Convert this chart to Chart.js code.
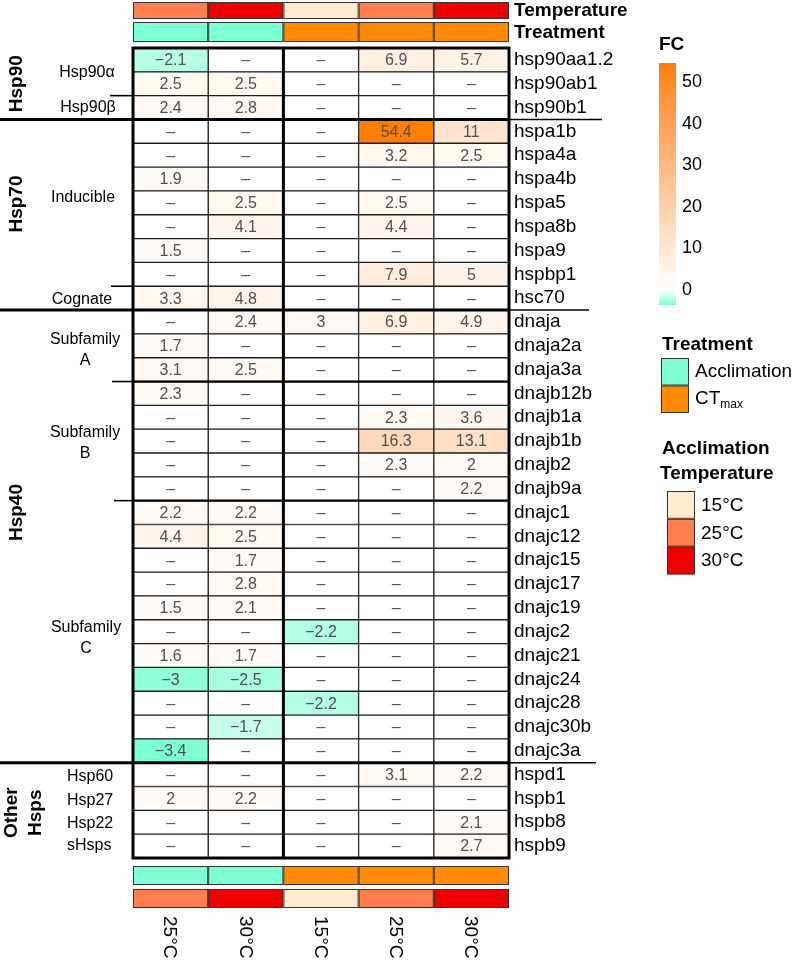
<!DOCTYPE html>
<html><head><meta charset="utf-8">
<script src="https://cdn.jsdelivr.net/npm/chart.js@4.4.1/dist/chart.umd.min.js"></script>
<style>html,body{margin:0;padding:0;background:#fff;} canvas{display:block;}</style>
</head><body>
<canvas id="c" width="792" height="960" style="width:792px;height:960px"></canvas>
<script>
// ---------------- DATA ----------------
const genes = ["hsp90aa1.2","hsp90ab1","hsp90b1","hspa1b","hspa4a","hspa4b","hspa5","hspa8b","hspa9","hspbp1","hsc70",
  "dnaja","dnaja2a","dnaja3a","dnajb12b","dnajb1a","dnajb1b","dnajb2","dnajb9a",
  "dnajc1","dnajc12","dnajc15","dnajc17","dnajc19","dnajc2","dnajc21","dnajc24","dnajc28","dnajc30b","dnajc3a",
  "hspd1","hspb1","hspb8","hspb9"];
const columnLabels = ["25°C","30°C","15°C","25°C","30°C"];
const treatments = ["Acclimation","Acclimation","CTmax","CTmax","CTmax"];
const temperatures = ["25°C","30°C","15°C","25°C","30°C"];
// fold change per condition (null = not significant, shown as "–")
const acc25 = [-2.1,2.5,2.4, null,null,1.9,null,null,1.5,null,3.3, null,1.7,3.1, 2.3,null,null,null,null,
  2.2,4.4,null,null,1.5,null,1.6,-3,null,null,-3.4, null,2,null,null];
const acc30 = [null,2.5,2.8, null,null,null,2.5,4.1,null,null,4.8, 2.4,null,2.5, null,null,null,null,null,
  2.2,2.5,1.7,2.8,2.1,null,1.7,-2.5,null,-1.7,null, null,2.2,null,null];
const ct15 = [null,null,null, null,null,null,null,null,null,null,null, 3,null,null, null,null,null,null,null,
  null,null,null,null,null,-2.2,null,null,-2.2,null,null, null,null,null,null];
const ct25 = [6.9,null,null, 54.4,3.2,null,2.5,4.4,null,7.9,null, 6.9,null,null, null,2.3,16.3,2.3,null,
  null,null,null,null,null,null,null,null,null,null,null, 3.1,null,null,null];
const ct30 = [5.7,null,null, 11,2.5,null,null,null,null,5,null, 4.9,null,null, null,3.6,13.1,2,2.2,
  null,null,null,null,null,null,null,null,null,null,null, 2.2,null,2.1,2.7];
const columns = [acc25, acc30, ct15, ct25, ct30];
const fcTicks = [0,10,20,30,40,50];
const fcMin = -3.4, fcMax = 54.4;
const treatmentLegend = ["Acclimation","CTmax"];
const temperatureLegend = ["15°C","25°C","30°C"];
const groupLabels = ["Hsp90","Hsp70","Hsp40","Other\nHsps"];
const groupFirstGene = ["hsp90aa1.2","hspa1b","dnaja","hspd1"];
const subgroupLabels = ["Hsp90α","Hsp90β","Inducible","Cognate","Subfamily\nA","Subfamily\nB","Subfamily\nC","Hsp60","Hsp27","Hsp22","sHsps"];
const subgroupFirstGene = ["hsp90aa1.2","hsp90b1","hspa1b","hsc70","dnaja","dnajb12b","dnajc1","hspd1","hspb1","hspb8","hspb9"];

// ---------------- COLOURS ----------------
const treatColors = {"Acclimation":"#7FFFD4","CTmax":"#FF8C00"};
const tempColors = {"15°C":"#FFEBCD","25°C":"#FF7F50","30°C":"#EE0000"};
function s2l(c){c/=255;return c<=0.04045?c/12.92:Math.pow((c+0.055)/1.055,2.4);}
function l2s(c){c=c<=0.0031308?12.92*c:1.055*Math.pow(c,1/2.4)-0.055;return Math.round(Math.max(0,Math.min(1,c))*255);}
function rgb2lab(rgb){const r=s2l(rgb[0]),g=s2l(rgb[1]),b=s2l(rgb[2]);
  let x=(0.4124*r+0.3576*g+0.1805*b)/0.95047,y=(0.2126*r+0.7152*g+0.0722*b),z=(0.0193*r+0.1192*g+0.9505*b)/1.08883;
  const f=t=>t>0.008856?Math.cbrt(t):7.787*t+16/116;x=f(x);y=f(y);z=f(z);
  return [116*y-16,500*(x-y),200*(y-z)];}
function lab2rgb(lab){const fy=(lab[0]+16)/116,fx=fy+lab[1]/500,fz=fy-lab[2]/200;
  const fi=t=>t*t*t>0.008856?t*t*t:(t-16/116)/7.787;
  const x=fi(fx)*0.95047,y=fi(fy),z=fi(fz)*1.08883;
  const r=3.2406*x-1.5372*y-0.4986*z,g=-0.9689*x+1.8758*y+0.0415*z,b=0.0557*x-0.2040*y+1.0570*z;
  return [l2s(r),l2s(g),l2s(b)];}
const LOW=rgb2lab([127,255,212]), MID=rgb2lab([255,255,255]), HIGH=rgb2lab([255,127,0]);
function fcColor(v){
  if(v===null||v===undefined) return "#FFFFFF";
  let a,b,t;
  if(v<0){a=MID;b=LOW;t=Math.min(1,v/fcMin);} else {a=MID;b=HIGH;t=Math.min(1,v/fcMax);}
  const c=lab2rgb([a[0]+(b[0]-a[0])*t,a[1]+(b[1]-a[1])*t,a[2]+(b[2]-a[2])*t]);
  return `rgb(${c[0]},${c[1]},${c[2]})`;
}
function fmt(v){ if(v===null) return "–"; return (v<0?"−":"")+String(Math.abs(v)); }

const FONT = '"Liberation Sans", Arial, Helvetica, sans-serif';

// ---------------- DRAWING PLUGIN ----------------
const decor = {
  id:'decor',
  afterDatasetsDraw(chart){
    const ctx=chart.ctx, area=chart.chartArea, xs=chart.scales.x;
    const n=genes.length, rowH=(area.bottom-area.top)/n;
    const rowY=f=>area.top+f*rowH;
    ctx.save();
    // cell text
    ctx.font='16px '+FONT; ctx.fillStyle='#505050'; ctx.textAlign='center'; ctx.textBaseline='middle';
    columns.forEach((col,ci)=>{
      const meta=chart.getDatasetMeta(ci);
      meta.data.forEach((el,ri)=>{
        const cx=(el.base+el.x)/2;
        ctx.fillText(fmt(col[ri]), cx, el.y+1);
      });
    });
    // thick frame and splits
    ctx.strokeStyle='#000';
    ctx.lineWidth=3;
    ctx.strokeRect(area.left, area.top, area.right-area.left, area.bottom-area.top);
    ctx.beginPath(); const xs2=xs.getPixelForValue(2); ctx.moveTo(xs2,area.top); ctx.lineTo(xs2,area.bottom); ctx.stroke();
    groupFirstGene.forEach((g,i)=>{ if(i===0) return; const y=rowY(genes.indexOf(g));
      ctx.lineWidth=3; ctx.beginPath(); ctx.moveTo(0,y); ctx.lineTo(area.right,y); ctx.stroke();
      ctx.lineWidth=1.6; ctx.beginPath(); ctx.moveTo(area.right,y); ctx.lineTo(area.right+[0,93,80,87][i],y); ctx.stroke();
    });
    ["hsp90b1","hsc70","dnajb12b","dnajc1"].forEach((g,i)=>{ const y=rowY(genes.indexOf(g));
      ctx.lineWidth=1.6; ctx.beginPath(); ctx.moveTo([110,111,112,114][i],y); ctx.lineTo(area.left,y); ctx.stroke();
      if(i>=2){ ctx.lineWidth=2.2; ctx.beginPath(); ctx.moveTo(area.left,y); ctx.lineTo(area.right,y); ctx.stroke(); }
    });
    // annotation bars
    const bars=[[2,19,temperatures,tempColors],[22,42,treatments,treatColors],[866,885,treatments,treatColors],[889,908,temperatures,tempColors]];
    ctx.lineWidth=1; ctx.strokeStyle='#333';
    bars.forEach(([y0,y1,vals,cmap])=>{
      vals.forEach((v,i)=>{ const x0=xs.getPixelForValue(i), x1=xs.getPixelForValue(i+1);
        ctx.fillStyle=cmap[v]; ctx.fillRect(x0,y0,x1-x0,y1-y0); ctx.strokeRect(x0+0.5,y0+0.5,x1-x0-1,y1-y0-1); });
    });
    ctx.fillStyle='#000'; ctx.textAlign='left'; ctx.textBaseline='middle';
    ctx.font='bold 19px '+FONT;
    ctx.fillText("Temperature", area.right+5, 11);
    ctx.fillText("Treatment", area.right+5, 33);
    // column labels (rotated)
    ctx.font='19px '+FONT;
    columnLabels.forEach((l,i)=>{ const cx=(xs.getPixelForValue(i)+xs.getPixelForValue(i+1))/2;
      ctx.save(); ctx.translate(cx-1,916); ctx.rotate(Math.PI/2); ctx.textAlign='left'; ctx.textBaseline='middle'; ctx.fillText(l,0,0); ctx.restore(); });
    // group labels (rotated, bold)
    const groupF=[1.5,6.55,19.5,32.1];
    ctx.font='bold 19px '+FONT;
    groupLabels.forEach((l,i)=>{ const lines=l.split("\n"); const y=rowY(groupF[i]);
      lines.forEach((t,k)=>{ const x = lines.length>1 ? [12,36][k] : 17;
        ctx.save(); ctx.translate(x,y); ctx.rotate(-Math.PI/2); ctx.textAlign='center'; ctx.textBaseline='middle'; ctx.fillText(t,0,0); ctx.restore(); });
    });
    // subgroup labels
    const subF=[1.03,2.5,6.3,10.55,12.66,16.6,24.77,30.6,31.6,32.55,33.5];
    ctx.font='16px '+FONT;
    subgroupLabels.forEach((l,i)=>{ const lines=l.split("\n"); const y=rowY(subF[i]);
      lines.forEach((t,k)=>{ const yy = y + (lines.length>1 ? (k-0.5)*21 : 0);
        if(i>=7){ ctx.textAlign='left'; ctx.fillText(t,67,yy); }
        else { ctx.textAlign='center'; ctx.fillText(t,[87,88,83,82,85,85,86][i],yy); } });
    });
    // FC colour bar legend
    const cbX=659, cbW=17, y0v=290, pxPer=4.16;
    const yTop=y0v-fcMax*pxPer, yBot=y0v-fcMin*pxPer;
    for(let y=Math.floor(yTop); y<Math.ceil(yBot); y++){ const v=(y0v-(y+0.5))/pxPer; ctx.fillStyle=fcColor(Math.max(fcMin,Math.min(fcMax,v))); ctx.fillRect(cbX,y,cbW,1); }
    ctx.fillStyle='#000'; ctx.font='bold 19px '+FONT; ctx.textAlign='left'; ctx.fillText("FC",cbX,45);
    ctx.font='18px '+FONT;
    fcTicks.forEach(t=>ctx.fillText(String(t), 682, y0v-t*pxPer));
    // Treatment legend
    ctx.font='bold 19px '+FONT; ctx.fillText("Treatment",662,345);
    treatmentLegend.forEach((t,i)=>{ const y=358+i*27.5; ctx.fillStyle=treatColors[t]; ctx.fillRect(661,y,28,27.5);
      ctx.strokeStyle='#333'; ctx.lineWidth=1; ctx.strokeRect(661.5,y+0.5,27,26.5); });
    ctx.fillStyle='#000'; ctx.font='19px '+FONT;
    ctx.fillText("Acclimation",695,372);
    ctx.fillText("CT",695,399); const ctw=ctx.measureText("CT").width; ctx.font='12px '+FONT; ctx.fillText("max",695+ctw,405);
    // Acclimation temperature legend
    ctx.font='bold 19px '+FONT; ctx.fillText("Acclimation",662,449); ctx.fillText("Temperature",660,474);
    temperatureLegend.forEach((t,i)=>{ const y=491+i*27.8; ctx.fillStyle=tempColors[t]; ctx.fillRect(667,y,28,27.8);
      ctx.strokeStyle='#333'; ctx.lineWidth=1; ctx.strokeRect(667.5,y+0.5,27,26.8);
      ctx.fillStyle='#000'; ctx.font='19px '+FONT; ctx.fillText(t,701,y+14.5); });
    ctx.restore();
  }
};

// ---------------- CHART ----------------
const datasets = columns.map((col,ci)=>({
  label: treatments[ci]+" "+columnLabels[ci],
  data: genes.map(()=>1),
  backgroundColor: col.map(fcColor),
  borderColor:'#1e1e1e', borderWidth:1, borderSkipped:false,
  barPercentage:1, categoryPercentage:1
}));
new Chart(document.getElementById('c'), {
  type:'bar',
  data:{labels:genes, datasets},
  options:{
    indexAxis:'y', responsive:false, animation:false, devicePixelRatio:1,
    layout:{padding:{left:133, top:48, right:0, bottom:102}},
    plugins:{legend:{display:false}, tooltip:{enabled:false}},
    scales:{
      x:{type:'linear', min:0, max:5, stacked:true, display:false},
      y:{stacked:true, position:'right', grid:{display:false, drawTicks:false}, border:{display:false},
         afterFit:s=>{s.width=283;},
         ticks:{autoSkip:false, padding:5, color:'#000', font:{family:FONT, size:19}}}
    }
  },
  plugins:[decor]
});
</script>
</body></html>
